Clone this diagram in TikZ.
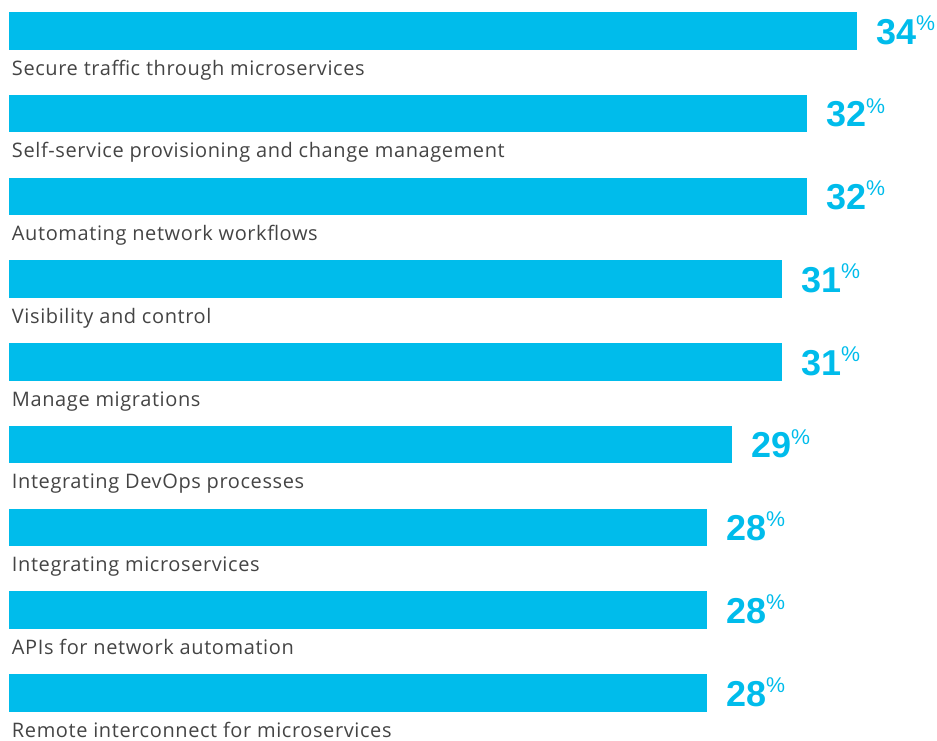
\documentclass[tikz,border=0pt]{standalone}
\usepackage{fontspec}
\setmainfont{Liberation Sans}
\newfontfamily\itemfont[LetterSpace=3.0]{Open Sans}
\usetikzlibrary{positioning}
\definecolor{barblue}{HTML}{00BCEB}
\definecolor{labelgray}{HTML}{444444}

\begin{document}
\begin{tikzpicture}[x=0.75pt,y=-0.75pt,
  bar/.style={fill=barblue},
  item/.style={anchor=base west,inner sep=0.,outer sep=0.,text=labelgray,font=\itemfont\fontsize{15}{17}\selectfont},
  value/.style={anchor=base west,inner sep=0.,outer sep=0.,text=barblue,font=\fontsize{27}{30}\bfseries},
  pcsign/.style={anchor=north west,inner sep=0.,outer sep=0.,text=barblue,font=\fontsize{16}{18}\selectfont}]%
  \useasboundingbox (0,0) rectangle (937,740);
  % rows
  \fill[bar] (9,12) rectangle (857,49.5);
  \node[item] (l1) at (12,75) {Secure traffic through microservices};
  \node[value] (v1) at (876,44) {34};
  \node[pcsign,yshift=2.5pt] (s1) at (v1.north east) {\%};

  \fill[bar] (9,94.75) rectangle (807,132.25);
  \node[item] (l2) at (12,157.75) {Self-service provisioning and change management};
  \node[value] (v2) at (826,126.75) {32};
  \node[pcsign,yshift=2.5pt] (s2) at (v2.north east) {\%};

  \fill[bar] (9,177.5) rectangle (807,215);
  \node[item] (l3) at (12,240.5) {Automating network workflows};
  \node[value] (v3) at (826,209.5) {32};
  \node[pcsign,yshift=2.5pt] (s3) at (v3.north east) {\%};

  \fill[bar] (9,260.25) rectangle (782,297.75);
  \node[item] (l4) at (12,323.25) {Visibility and control};
  \node[value] (v4) at (801,292.25) {31};
  \node[pcsign,yshift=2.5pt] (s4) at (v4.north east) {\%};

  \fill[bar] (9,343) rectangle (782,380.5);
  \node[item] (l5) at (12,406) {Manage migrations};
  \node[value] (v5) at (801,375) {31};
  \node[pcsign,yshift=2.5pt] (s5) at (v5.north east) {\%};

  \fill[bar] (9,425.75) rectangle (732,463.25);
  \node[item] (l6) at (12,488.75) {Integrating DevOps processes};
  \node[value] (v6) at (751,457.75) {29};
  \node[pcsign,yshift=2.5pt] (s6) at (v6.north east) {\%};

  \fill[bar] (9,508.5) rectangle (707,546);
  \node[item] (l7) at (12,571.5) {Integrating microservices};
  \node[value] (v7) at (726,540.5) {28};
  \node[pcsign,yshift=2.5pt] (s7) at (v7.north east) {\%};

  \fill[bar] (9,591.25) rectangle (707,628.75);
  \node[item] (l8) at (12,654.25) {APIs for network automation};
  \node[value] (v8) at (726,623.25) {28};
  \node[pcsign,yshift=2.5pt] (s8) at (v8.north east) {\%};

  \fill[bar] (9,674) rectangle (707,711.5);
  \node[item] (l9) at (12,737) {Remote interconnect for microservices};
  \node[value] (v9) at (726,706) {28};
  \node[pcsign,yshift=2.5pt] (s9) at (v9.north east) {\%};
\end{tikzpicture}
\end{document}
